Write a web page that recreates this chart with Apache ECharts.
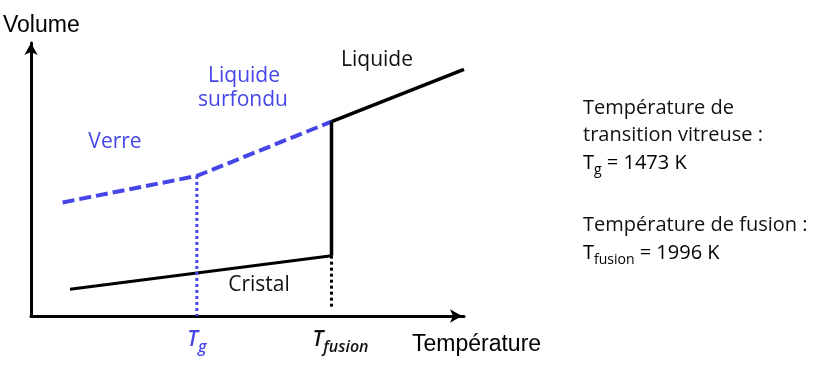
<!DOCTYPE html>
<html>
<head>
<meta charset="utf-8">
<script src="https://cdn.jsdelivr.net/npm/echarts@6/dist/echarts.min.js"></script>
<style>html,body{margin:0;padding:0;background:#fff;}#c{width:834px;height:370px;}</style>
</head>
<body>
<div id="c"></div>
<script>
// Data (arbitrary units: x = temperature, y = volume)
const tgX = 38.3;
const tfusionX = 69.4;
const tickValues = [tgX, tfusionX];
const tickNames = ['T|g', 'T|fusion'];
const glassX = [7.3, 38.3, 69.4];
const glassY = [41.6, 51.3, 71.2];
const liquidX = [69.4, 100];
const liquidY = [71.2, 90.3];
const crystalX = [9.0, 69.4];
const crystalY = [9.8, 22.1];
const meltX = [69.4, 69.4];
const meltY = [22.1, 71.2];
const tgDropX = [38.3, 38.3];
const tgDropY = [51.3, 0];
const fusionDropX = [69.4, 69.4];
const fusionDropY = [22.1, 2.6];
const infoLines = ['Température de', 'transition vitreuse :', 'T|g| = 1473 K', 'Température de fusion :', 'T|fusion| = 1996 K'];

const BLUE = '#4646e8';
const BLACK = '#000';
const LABEL_FONT = '"Open Sans", "Noto Sans", sans-serif';

function pairs(xs, ys) { return xs.map((x, i) => [x, ys[i]]); }

const chart = echarts.init(document.getElementById('c'), null, {renderer: 'canvas'});

function lineSeries(name, xs, ys, color, width, type) {
  return {
    name: name, type: 'line', data: pairs(xs, ys), symbol: 'none', silent: true,
    lineStyle: {color: color, width: width, type: type, cap: 'butt'},
    clip: false, animation: false, z: 3
  };
}

const tickParts = tickNames.map(s => s.split('|'));

function subText(parts, size, subSize) {
  return {
    text: '{m|' + parts[0] + '}{s|' + parts[1] + '}{m|' + parts[2] + '}',
    rich: {
      m: {fontFamily: LABEL_FONT, fontSize: size, color: '#111', lineHeight: 28},
      s: {fontFamily: LABEL_FONT, fontSize: subSize, color: '#111', lineHeight: 14, verticalAlign: 'bottom'}
    }
  };
}

chart.setOption({
  animation: false,
  backgroundColor: '#fff',
  grid: {left: 31, right: 370, top: 43, bottom: 54, containLabel: false},
  xAxis: {
    type: 'value', min: 0, max: 100,
    axisLine: {show: true, lineStyle: {color: BLACK, width: 3}, symbol: ['none', 'arrow'], symbolSize: [10, 12], symbolOffset: [0, -2]},
    axisTick: {show: false},
    splitLine: {show: false},
    axisLabel: {
      show: true,
      customValues: tickValues,
      margin: 9,
      formatter: function (v) {
        if (Math.abs(v - tgX) < 1e-6) return '{tb|' + tickParts[0][0] + '}{tbs|' + tickParts[0][1] + '}';
        return '{pad|}{tk|' + tickParts[1][0] + '}{tks|' + tickParts[1][1] + '}';
      },
      rich: {
        tb: {color: BLUE, fontFamily: LABEL_FONT, fontStyle: 'italic', fontWeight: 600, fontSize: 21, lineHeight: 30},
        tbs: {color: BLUE, fontFamily: LABEL_FONT, fontStyle: 'italic', fontWeight: 600, fontSize: 16, lineHeight: 15, verticalAlign: 'bottom'},
        tk: {color: '#111', fontFamily: LABEL_FONT, fontStyle: 'italic', fontWeight: 600, fontSize: 21, lineHeight: 30},
        tks: {color: '#111', fontFamily: LABEL_FONT, fontStyle: 'italic', fontWeight: 600, fontSize: 16, lineHeight: 15, verticalAlign: 'bottom'},
        pad: {width: 18, height: 1}
      }
    }
  },
  yAxis: {
    type: 'value', min: 0, max: 100,
    axisLine: {show: true, lineStyle: {color: BLACK, width: 3}, symbol: ['none', 'arrow'], symbolSize: [10, 12], symbolOffset: [0, 0]},
    axisTick: {show: false},
    splitLine: {show: false},
    axisLabel: {show: false}
  },
  series: [
    lineSeries('Verre / liquide surfondu', glassX, glassY, BLUE, 4, [12, 5]),
    lineSeries('Liquide', liquidX, liquidY, BLACK, 3.5, 'solid'),
    lineSeries('Cristal', crystalX, crystalY, BLACK, 3, 'solid'),
    lineSeries('Fusion', meltX, meltY, BLACK, 3.5, 'solid'),
    lineSeries('Tg', tgDropX, tgDropY, BLUE, 3, [3, 3]),
    lineSeries('Tfusion', fusionDropX, fusionDropY, BLACK, 3, [3, 3])
  ],
  graphic: [
    {type: 'text', x: 3, y: 26, style: {text: 'Volume', font: '23px "Liberation Sans", Arial, sans-serif', fill: BLACK, verticalAlign: 'middle'}},
    {type: 'text', x: 412, y: 345, style: {text: 'Température', font: '23px "Liberation Sans", Arial, sans-serif', fill: BLACK, verticalAlign: 'middle'}},
    {type: 'text', x: 115, y: 142, style: {text: 'Verre', font: '21px ' + LABEL_FONT, fill: BLUE, align: 'center', verticalAlign: 'middle'}},
    {type: 'text', x: 244, y: 76, style: {text: 'Liquide', font: '21px ' + LABEL_FONT, fill: BLUE, align: 'center', verticalAlign: 'middle'}},
    {type: 'text', x: 243, y: 100, style: {text: 'surfondu', font: '21px ' + LABEL_FONT, fill: BLUE, align: 'center', verticalAlign: 'middle'}},
    {type: 'text', x: 377, y: 60, style: {text: 'Liquide', font: '21px ' + LABEL_FONT, fill: '#111', align: 'center', verticalAlign: 'middle'}},
    {type: 'text', x: 259, y: 285, style: {text: 'Cristal', font: '21px ' + LABEL_FONT, fill: '#111', align: 'center', verticalAlign: 'middle'}},
    {type: 'text', x: 583, y: 108, style: {text: infoLines[0], font: '20px ' + LABEL_FONT, fill: '#111', verticalAlign: 'middle'}},
    {type: 'text', x: 583, y: 135, style: {text: infoLines[1], font: '20px ' + LABEL_FONT, fill: '#111', verticalAlign: 'middle'}},
    {type: 'text', x: 583, y: 149, style: subText(infoLines[2].split('|'), 20, 14)},
    {type: 'text', x: 583, y: 225, style: {text: infoLines[3], font: '20px ' + LABEL_FONT, fill: '#111', verticalAlign: 'middle'}},
    {type: 'text', x: 583, y: 239, style: subText(infoLines[4].split('|'), 20, 14)}
  ]
});
</script>
</body>
</html>
